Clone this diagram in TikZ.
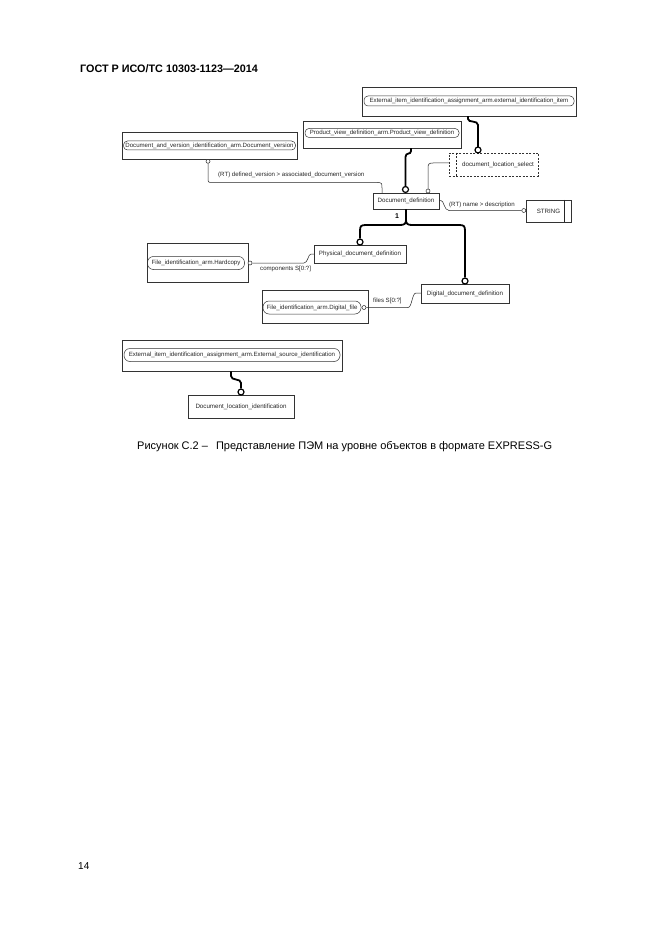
\documentclass[tikz,border=0pt]{standalone}
\usepackage{fontspec}
\setmainfont{Liberation Sans}
\begin{document}
\begin{tikzpicture}[x=1pt,y=-1pt,
  ent/.style={draw=black!80, line width=0.5pt, inner sep=0pt, font=\fontsize{6.2}{7}\selectfont, text=black!85},
  pill/.style={draw=black!80, line width=0.5pt, rounded corners=4pt, inner sep=0pt, font=\fontsize{6.1}{7}\selectfont, text=black!85},
  dashbox/.style={dash pattern=on 2pt off 1.5pt},
  conn/.style={line width=0.5pt, draw=black!85},
  heavyconn/.style={line width=1.8pt, draw=black},
  bigc/.style={circle, draw=black, line width=1.2pt, fill=white, minimum size=6pt, inner sep=0pt},
  smallc/.style={circle, draw=black!85, line width=0.5pt, fill=white, minimum size=4pt, inner sep=0pt},
  lbl/.style={font=\fontsize{6.1}{7}\selectfont, inner sep=0pt, anchor=west, text=black!85}
]
\useasboundingbox[fill=white] (0,0) rectangle (661,936);

% header, page number
\node[anchor=west, inner sep=0pt, font=\bfseries\fontsize{10.8}{12}\selectfont] (hdr) at (80,69) {ГОСТ Р ИСО/ТС 10303-1123—2014};
\node[anchor=west, inner sep=0pt, font=\fontsize{10}{12}\selectfont] (pg) at (78,866) {14};

% entities
\node[ent,minimum width=214pt,minimum height=29pt] (extitem) at (469,101.5) {};
\node[pill,minimum width=210pt,minimum height=10pt] (extitemp) at (469,101) {External\_item\_identification\_assignment\_arm.external\_identification\_item};

\node[ent,minimum width=158pt,minimum height=27pt] (pvd) at (382,134.5) {};
\node[pill,minimum width=154pt,minimum height=9pt] (pvdp) at (382,133) {Product\_view\_definition\_arm.Product\_view\_definition};

\node[ent,minimum width=175pt,minimum height=27pt] (docver) at (209.5,145.5) {};
\node[pill,minimum width=172pt,minimum height=9pt] (docverp) at (209.5,145.5) {Document\_and\_version\_identification\_arm.Document\_version};

\node[ent,dashbox,minimum width=89pt,minimum height=23pt,
  label={[font=\fontsize{6.2}{7}\selectfont,text=black!85,xshift=4.5pt]center:document\_location\_select}] (dls) at (493.5,164.5) {};
\draw[conn,dashbox] ([xshift=7pt]dls.north west) -- ([xshift=7pt]dls.south west);

\node[ent,minimum width=66pt,minimum height=16pt] (docdef) at (406,201) {Document\_definition};
\node[ent,minimum width=45pt,minimum height=22pt] (string) at (548.5,211) {STRING\hspace{4pt}};
\draw[conn] ([xshift=-7pt]string.north east) -- ([xshift=-7pt]string.south east);

\node[ent,minimum width=92pt,minimum height=18pt] (phys) at (360,254) {Physical\_document\_definition};
\node[ent,minimum width=101pt,minimum height=39pt] (hard) at (197.5,262.5) {};
\node[pill,minimum width=97pt,minimum height=13pt,rounded corners=6pt] (hardp) at (196,263) {File\_identification\_arm.Hardcopy};

\node[ent,minimum width=88pt,minimum height=19pt] (digital) at (465,293.5) {Digital\_document\_definition};
\node[ent,minimum width=106pt,minimum height=33pt] (digfile) at (315,306.5) {};
\node[pill,minimum width=98pt,minimum height=13pt,rounded corners=6pt] (digfilep) at (312,307.5) {File\_identification\_arm.Digital\_file};

\node[ent,minimum width=220pt,minimum height=31pt] (extsrc) at (232,355.5) {};
\node[pill,minimum width=216pt,minimum height=13pt,rounded corners=6pt] (extsrcp) at (232,355) {External\_item\_identification\_assignment\_arm.External\_source\_identification};

\node[ent,minimum width=106pt,minimum height=23pt] (dli) at (241,406.5) {Document\_location\_identification};

% connectors
\draw[heavyconn] (extitem.south -| 468,0) -- (468,119) .. controls (468,123) and (478,120) .. (478,125) -- (478,147);
\node[bigc] (c1) at (478,150) {};

\draw[heavyconn] (pvd.south -| 411,0) -- (411,151) .. controls (411,155) and (405.5,152) .. (405.5,157) -- (405.5,186.5);
\node[bigc] (c2) at (405.5,189.5) {};

\node[smallc] (c3) at (208,161.3) {};
\draw[conn] (c3.south) -- (208,178) .. controls (208,182) and (208,182.5) .. (212,182.5) -- (378,182.5) .. controls (382,182.5) and (382,184) .. (382,188) -- (docdef.north -| 382,0);
\node[lbl] (l1) at (218,175) {(RT) defined\_version > associated\_document\_version};

\node[smallc] (c4) at (428,191) {};
\draw[conn] (dls.west |- 0,163) -- (433,163) .. controls (429,163) and (428,164) .. (428,168) -- (c4.north);

\node[smallc] (c5) at (523.8,210.5) {};
\draw[conn] (docdef.east |- 0,200.5) -- (441,200.5) .. controls (444,200.5) and (444,210.5) .. (449,210.5) -- (c5.west);
\node[lbl] (l2) at (449,205) {(RT) name > description};

\node[font=\bfseries\fontsize{7}{8}\selectfont, inner sep=0pt] (one) at (397,216) {1};
\node[bigc] (c6) at (360,242) {};
\node[bigc] (c7) at (465,281) {};
\draw[heavyconn] (docdef.south) -- (406,220) .. controls (406,224) and (404,225) .. (400,225) -- (366,225) .. controls (361,225) and (360,226) .. (360,231) -- (c6.north);
\draw[heavyconn] (docdef.south) -- (406,220) .. controls (406,224) and (408,225) .. (412,225) -- (459,225) .. controls (464,225) and (465,226) .. (465,231) -- (c7.north);

\node[smallc] (c8) at (250,263) {};
\draw[conn] (phys.west |- 0,254) -- (311,254) .. controls (308,254) and (308,263) .. (304,263) -- (c8.east);
\node[lbl] (l3) at (260,269) {components S[0:?]};

\node[smallc] (c9) at (364,307.5) {};
\draw[conn] (digital.west |- 0,293) -- (416,293) .. controls (412,293) and (412,307.5) .. (408,307.5) -- (c9.east);
\node[lbl] (l4) at (373,301) {files S[0:?]};

\node[bigc] (c10) at (241,392) {};
\draw[heavyconn] (extsrc.south -| 231,0) -- (231,376) .. controls (231,381) and (241,378) .. (241,383) -- (c10.north);

% caption
\node[anchor=west, font=\fontsize{11}{13}\selectfont, inner sep=0pt] (cap) at (137,447) {Рисунок С.2 –\hspace{8pt}Представление ПЭМ на уровне объектов в формате EXPRESS-G};
\end{tikzpicture}
\end{document}
